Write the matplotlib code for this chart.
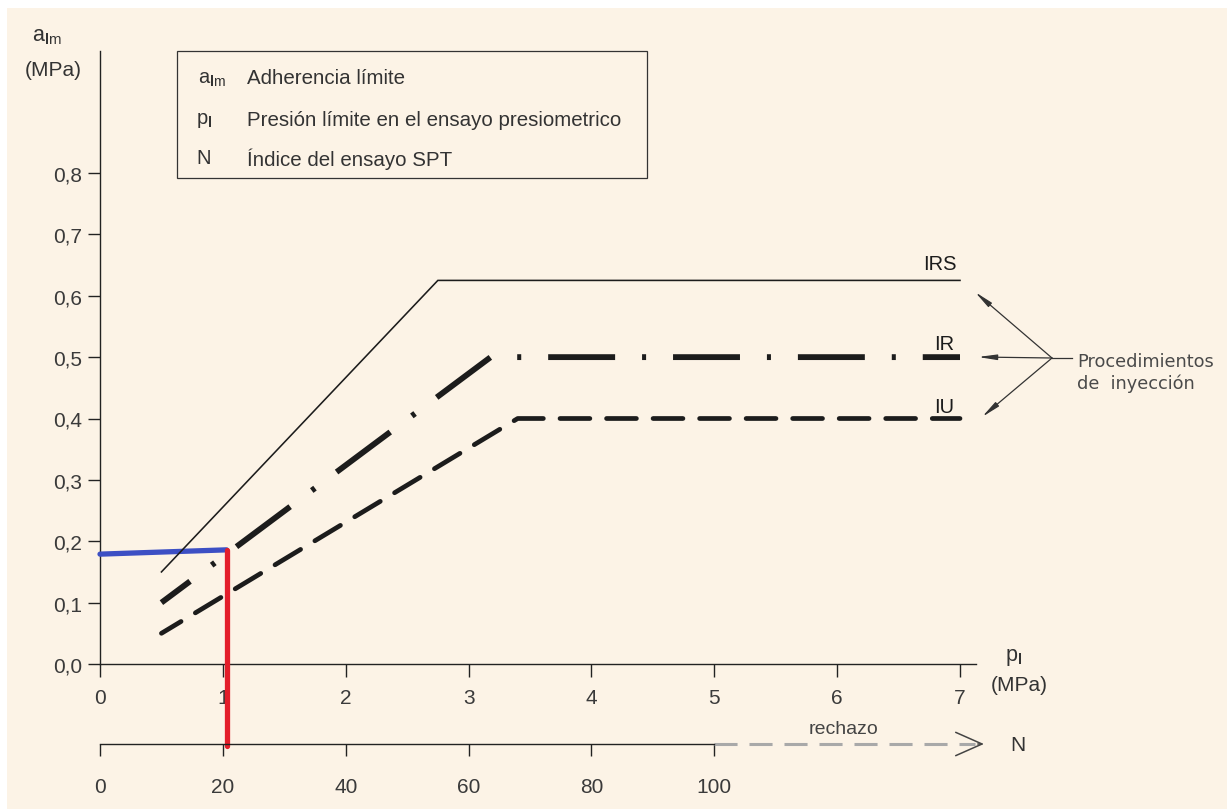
import matplotlib
matplotlib.use("Agg")
import matplotlib.pyplot as plt
from matplotlib.patches import Rectangle

plt.rcParams["font.family"] = ["Liberation Sans", "DejaVu Sans"]
plt.rcParams["mathtext.fontset"] = "custom"
plt.rcParams["mathtext.rm"] = "Liberation Sans"
plt.rcParams["mathtext.bf"] = "Liberation Sans:bold"
plt.rcParams["mathtext.it"] = "Liberation Sans:italic"
plt.rcParams["lines.scale_dashes"] = False

# ---- data -------------------------------------------------------------
pl_ticks = [0, 1, 2, 3, 4, 5, 6, 7]
a_ticks = [0.0, 0.1, 0.2, 0.3, 0.4, 0.5, 0.6, 0.7, 0.8]
a_ticklabels = ["0,0", "0,1", "0,2", "0,3", "0,4", "0,5", "0,6", "0,7", "0,8"]
n_ticks = [0, 20, 40, 60, 80, 100]
n_per_mpa = 20          # N = 20 * pl on the secondary scale
n_refusal_end = 143.9   # end of the "rechazo" arrow on the N scale

# injection procedures (pl in MPa, a_lm in MPa)
irs_pl = [0.5, 2.75, 7.0]
irs_a = [0.15, 0.625, 0.625]
ir_pl = [0.5, 3.18, 7.0]
ir_a = [0.10, 0.50, 0.50]
iu_pl = [0.5, 3.40, 7.0]
iu_a = [0.05, 0.40, 0.40]

# worked example: pl ~ 1.03 MPa (N = 20) -> a_lm ~ 0.18 MPa
case_pl = [0.0, 1.03]
case_a = [0.179, 0.186]
case_n_bottom = -0.134  # red reading line reaches the N scale

legend_symbols = [r"a$_{\mathbf{l}\mathrm{m}}$", r"p$_{\mathbf{l}}$", "N"]
legend_texts = ["Adherencia límite",
                "Presión límite en el ensayo presiometrico",
                "Índice del ensayo SPT"]

# ---- figure layout (pixel based) ---------------------------------------
W, H = 1227, 812
fig = plt.figure(figsize=(W / 100, H / 100), dpi=100)
fig.patch.set_facecolor("white")
fig.patches.append(Rectangle((7 / W, 1 - 810 / H), (W - 7) / W, (810 - 9) / H,
                             transform=fig.transFigure, facecolor="#fcf3e6",
                             edgecolor="none", zorder=-10))

X0, Y0 = 100, 665          # pixel of origin
SX, SY = 122.857, 613.75   # pixels per MPa
XMAX, YMAX = 7.13, 0.999

def fx(x):
    return x / W

def fy(y):
    return 1 - y / H

def px(x, y):
    return ((x - X0) / SX, (Y0 - y) / SY)

ax = fig.add_axes([fx(X0), fy(Y0), XMAX * SX / W, YMAX * SY / H])
ax.set_facecolor("none")
ax.set_xlim(0, XMAX)
ax.set_ylim(0, YMAX)
for s in ("top", "right"):
    ax.spines[s].set_visible(False)
for s in ("left", "bottom"):
    ax.spines[s].set_color("#222222")
    ax.spines[s].set_linewidth(1.0)

ax.set_xticks(pl_ticks)
ax.set_xticklabels([str(t) for t in pl_ticks])
ax.set_yticks(a_ticks)
ax.set_yticklabels(a_ticklabels)
ax.tick_params(axis="x", direction="out", length=9.4, width=1.0, color="#222222",
               pad=8.0, labelsize=15, labelcolor="#3a3a3a")
ax.tick_params(axis="y", direction="out", length=8.6, width=1.0, color="#222222",
               pad=4.0, labelsize=15, labelcolor="#3a3a3a")

ink = "#1c1c1c"

# IRS: solid thin
ax.plot(irs_pl, irs_a, color=ink, lw=1.15, solid_joinstyle="miter",
        clip_on=False, zorder=5)

# IR: dash-dot
ax.plot(ir_pl, ir_a, color=ink, lw=4.2, dash_capstyle="butt",
        linestyle=(22.5, (48.2, 19.4, 2.9, 19.4)), clip_on=False, zorder=4)

# IU: dashed
ax.plot(iu_pl, iu_a, color=ink, lw=3.4, dash_capstyle="round",
        linestyle=(5.0, (21.5, 12.0)), clip_on=False, zorder=4)

# example reading
ax.plot(case_pl, case_a, color="#3c4fc4", lw=3.8, solid_capstyle="round",
        clip_on=False, zorder=4.5)
ax.plot([case_pl[-1], case_pl[-1]], [case_a[-1], case_n_bottom], color="#e31e2a",
        lw=3.8, solid_capstyle="round", clip_on=False, zorder=6)

# curve labels
for lab, (xx, yy) in [("IRS", (940, 265)), ("IR", (944, 345)), ("IU", (944, 408))]:
    ax.text(*px(xx, yy), lab, fontsize=14.5, color=ink, ha="center", va="center")

# arrows to the curves
junction = px(1052, 359)
for tip in [(975, 293), (978, 358), (982, 418)]:
    ax.annotate("", xy=px(*tip), xytext=junction, annotation_clip=False,
                arrowprops=dict(arrowstyle="-|>,head_length=1.1,head_width=0.16",
                                lw=0.9, color="#333333", shrinkA=0, shrinkB=0))
ax.plot([junction[0], px(1072, 359)[0]], [junction[1], junction[1]],
        color="#333333", lw=0.9, clip_on=False)
fig.text(fx(1077), fy(362), "Procedimientos", fontsize=12.8, color="#4a4a4a",
         family="DejaVu Sans", ha="left", va="center")
fig.text(fx(1077), fy(384), "de  inyección", fontsize=12.8, color="#4a4a4a",
         family="DejaVu Sans", ha="left", va="center")

# axis titles
fig.text(fx(47), fy(37), r"a$_{\mathbf{l}\mathrm{m}}$", fontsize=15.5, color="#333333",
         ha="center", va="center")
fig.text(fx(53), fy(70), "(MPa)", fontsize=15, color="#333333",
         ha="center", va="center")
fig.text(fx(1014), fy(657), r"p$_{\mathbf{l}}$", fontsize=15.5, color="#333333",
         ha="center", va="center")
fig.text(fx(1019), fy(686), "(MPa)", fontsize=15, color="#333333",
         ha="center", va="center")

# legend box
fig.patches.append(Rectangle((fx(177), fy(179)), (647 - 177) / W, (179 - 52) / H,
                             transform=fig.transFigure, facecolor="none",
                             edgecolor="#333333", lw=0.9, zorder=3))
for sym, txt, yy, sx in zip(legend_symbols, legend_texts, [79, 121, 159], [212, 204, 204]):
    fig.text(fx(sx), fy(yy), sym, fontsize=14.5, color="#333333", ha="center", va="center")
    fig.text(fx(247), fy(yy), txt, fontsize=14.8, color="#333333", ha="left", va="center")

# ---- secondary N (SPT) scale --------------------------------------------
NY = 745
ax2 = fig.add_axes([fx(X0), fy(NY), XMAX * SX / W, 0.02])
ax2.set_facecolor("none")
ax2.set_xlim(0, XMAX * n_per_mpa)
ax2.set_ylim(0, 1)
for s in ("top", "right", "left"):
    ax2.spines[s].set_visible(False)
ax2.spines["bottom"].set_bounds(n_ticks[0], n_ticks[-1])
ax2.spines["bottom"].set_color("#222222")
ax2.spines["bottom"].set_linewidth(1.0)
ax2.set_yticks([])
ax2.set_xticks(n_ticks)
ax2.set_xticklabels([str(t) for t in n_ticks])
ax2.tick_params(axis="x", direction="out", length=8.6, width=1.0, color="#222222",
                pad=15.0, labelsize=15, labelcolor="#3a3a3a")

ax2.plot([n_ticks[-1], n_refusal_end - 1.5], [0, 0], color="#a9a9a9", lw=2.2,
         linestyle=(0, (16.6, 8.6)), dash_capstyle="butt", clip_on=False)
ax2.annotate("", xy=(n_refusal_end, 0), xytext=(n_refusal_end - 1.0, 0),
             annotation_clip=False,
             arrowprops=dict(arrowstyle="->,head_length=0.95,head_width=0.42",
                             mutation_scale=20, lw=1.1, color="#444444",
                             shrinkA=0, shrinkB=0))
fig.text(fx(843), fy(730), "rechazo", fontsize=14, color="#444444",
         ha="center", va="center")
fig.text(fx(1018), fy(746), "N", fontsize=15, color="#333333",
         ha="center", va="center")

fig.savefig("out.png", dpi=100, facecolor=fig.get_facecolor())
